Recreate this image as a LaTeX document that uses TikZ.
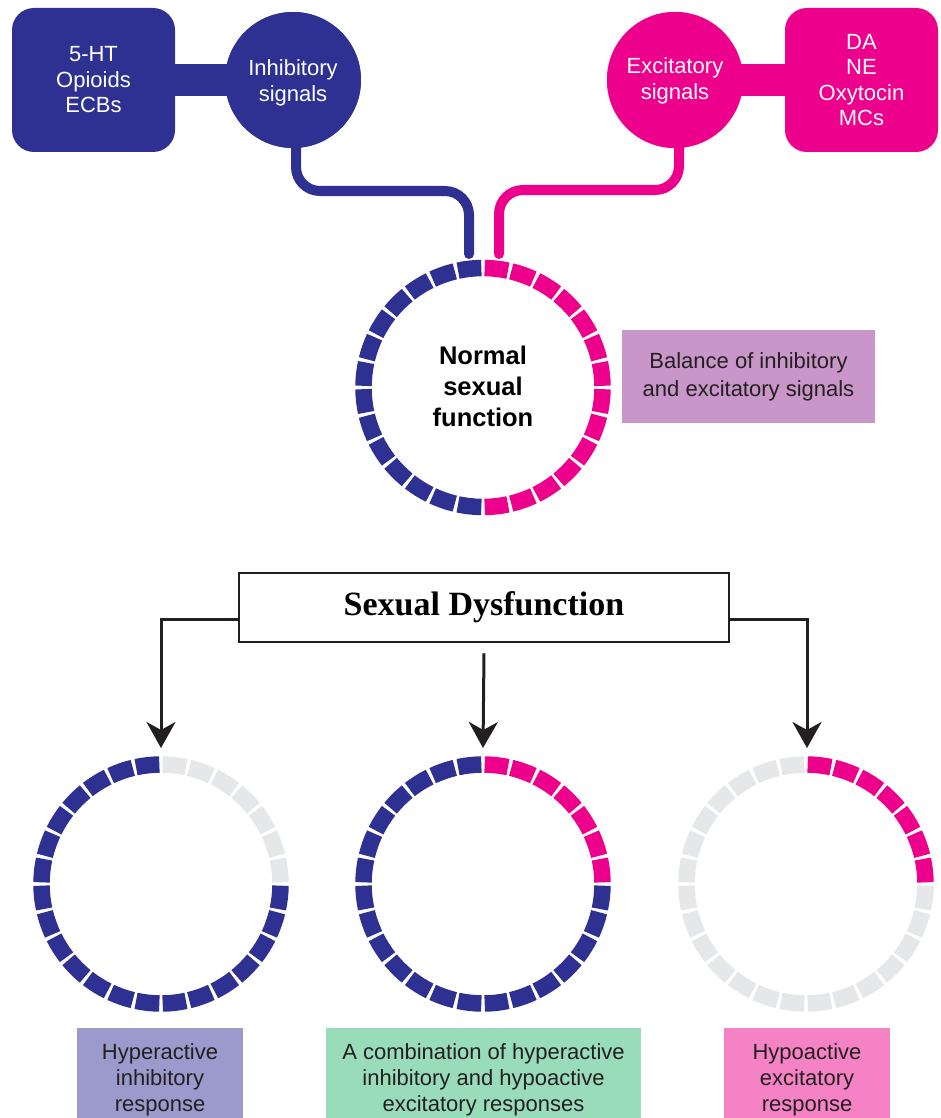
\documentclass[tikz,border=0pt]{standalone}
\usepackage{fontspec}
\setmainfont{Liberation Sans}
\newfontfamily\serifbold{Liberation Serif}[BoldFont={Liberation Serif Bold}]
\usetikzlibrary{calc,arrows.meta}
\definecolor{navy}{HTML}{2E3192}
\definecolor{mag}{HTML}{EC008C}
\definecolor{segGrey}{HTML}{E6E7E8}
\definecolor{balanceC}{HTML}{C896C8}
\definecolor{hyperC}{HTML}{9A9ACC}
\definecolor{comboC}{HTML}{99DCBA}
\definecolor{hypoC}{HTML}{F582C4}
\definecolor{inkC}{HTML}{231F20}
\newcommand\segring[4]{%
  \foreach \i in {0,...,27}{%
    \pgfmathsetmacro\sa{90-\i*360/28-0.8}%
    \pgfmathsetmacro\sb{90-(\i+1)*360/28+0.8}%
    \ifnum\i<7 \def\segcol{#2}\else\ifnum\i<14 \def\segcol{#3}\else\def\segcol{#4}\fi\fi
    \draw[line width=16.5pt,draw=\segcol] ($(#1)+(\sa:119.5)$) arc[start angle=\sa,end angle=\sb,radius=119.5];
  }}
\tikzset{
  srcbox/.style={rectangle,rounded corners=22pt,minimum width=163pt,minimum height=144pt,inner sep=0pt,
    text=white,align=center,font=\fontsize{22}{25.5}\selectfont},
  sigcircle/.style={circle,minimum size=136pt,inner sep=0pt},
  sigtext/.style={text=white,align=center,font=\fontsize{22}{26}\selectfont},
  conn/.style={line width=10pt,rounded corners=24pt,line cap=round},
  bar/.style={line width=32pt},
  labelbox/.style={rectangle,anchor=north,inner sep=0pt,minimum height=104pt,text=inkC,align=center,
    font=\fontsize{22}{26}\selectfont},
  flow/.style={line width=3pt,draw=inkC,-{Stealth[length=26pt,width=29pt,inset=8pt]}}
}
\begin{document}
\begin{tikzpicture}[x=1pt,y=1pt]
\useasboundingbox (0,0) rectangle (940,-1118);
\clip (0,0) rectangle (940,-1118);
% ring centres
\coordinate (rc) at (483,-387.5);
\coordinate (r1) at (161,-884);
\coordinate (r2) at (483,-884);
\coordinate (r3) at (806,-884);
% top nodes
\node[srcbox,fill=navy] (inhBox) at (93.5,-80) {5-HT\\Opioids\\ECBs};
\node[srcbox,fill=mag,minimum width=153pt] (excBox) at (861.5,-80) {DA\\NE\\Oxytocin\\MCs};
\node[sigcircle,fill=navy] (inh) at (293,-80) {};
\node[sigcircle,fill=mag] (exc) at (675,-80) {};
% bars
\draw[bar,navy] ([xshift=-5pt]inhBox.east) -- ([xshift=5pt]inh.west);
\draw[bar,mag] ([xshift=-5pt]exc.east) -- ([xshift=5pt]excBox.west);
% redraw circles on top of bars
\node[sigcircle,fill=navy] at (inh) {};
\node[sigcircle,fill=mag] at (exc) {};
\node[sigtext] (inhT) at ([yshift=-3pt]inh.center) {Inhibitory\\signals};
\node[sigtext] (excT) at ([yshift=-1pt]exc.center) {Excitatory\\signals};
% connectors to central ring
\coordinate (inhKnee) at (469,-191);
\coordinate (inhEnd) at (469,-254);
\coordinate (excKnee) at (499,-190);
\coordinate (excEnd) at (499,-254);
\draw[conn,navy] ([xshift=3pt,yshift=6pt]inh.south) |- (inhKnee) -- (inhEnd);
\draw[conn,mag] ([xshift=4pt,yshift=6pt]exc.south) |- (excKnee) -- (excEnd);
% central ring
\segring{rc}{mag}{mag}{navy}
\node[align=center,font=\bfseries\fontsize{25.5}{31}\selectfont] (normal) at ([yshift=1pt]rc) {Normal\\sexual\\function};
\node[rectangle,fill=balanceC,minimum width=253pt,minimum height=93pt,inner sep=0pt,align=center,
  text=inkC,font=\fontsize{22}{28}\selectfont] (balance) at (748.5,-376.5) {Balance of inhibitory\\and excitatory signals};
% sexual dysfunction
\node[rectangle,draw=inkC,line width=2.5pt,fill=white,minimum width=490pt,minimum height=69pt,inner sep=0pt,
  font=\serifbold\bfseries\fontsize{34}{40}\selectfont] (sd) at (484,-607.5) {Sexual Dysfunction};
\coordinate (t1) at (161,-748);
\coordinate (t2) at (483,-748);
\coordinate (t3) at (807,-748);
\draw[flow] ([yshift=-12pt]sd.west) -| (t1);
\draw[flow] ([yshift=-10pt]sd.south) -- (t2);
\draw[flow] ([yshift=-12pt]sd.east) -| (t3);
% bottom rings
\segring{r1}{segGrey}{navy}{navy}
\segring{r2}{mag}{navy}{navy}
\segring{r3}{mag}{segGrey}{segGrey}
% labels
\node[labelbox,fill=hyperC,minimum width=166pt] (lab1) at (160,-1028) {Hyperactive\\inhibitory\\response};
\node[labelbox,fill=comboC,minimum width=315pt] (lab2) at (483.5,-1028) {A combination of hyperactive\\inhibitory and hypoactive\\excitatory responses};
\node[labelbox,fill=hypoC,minimum width=166pt] (lab3) at (807,-1028) {Hypoactive\\excitatory\\response};
\end{tikzpicture}
\end{document}
